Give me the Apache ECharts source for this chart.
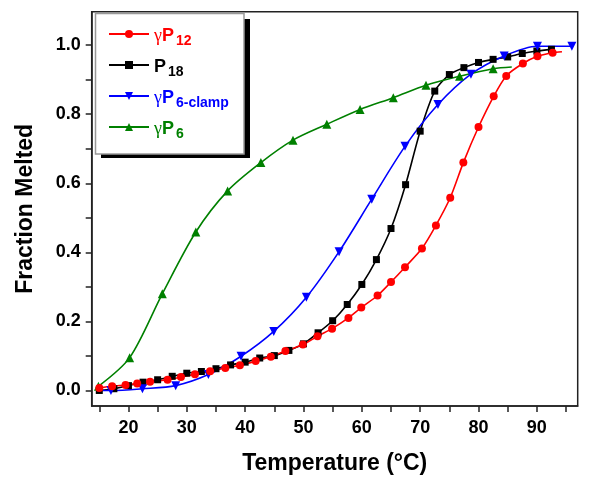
<!DOCTYPE html>
<html><head><meta charset="utf-8">
<script src="https://cdn.jsdelivr.net/npm/echarts@6/dist/echarts.min.js"></script>
<style>html,body{margin:0;padding:0;background:#fff}#c{width:600px;height:493px}</style>
</head><body><div id="c"></div>
<script>
// ---- data ----
const seriesNames = ['γP12', 'P18', 'γP6-clamp', 'γP6'];

const gP12Temp = [15.0, 17.2, 19.5, 21.5, 23.7, 26.7, 29.0, 31.4, 34.0, 36.6, 39.1, 41.8, 44.4, 46.9, 49.9, 52.4, 54.9, 57.7, 59.9, 62.7, 65.0, 67.4, 70.3, 72.7, 75.15, 77.4, 80.0, 82.6, 84.75, 87.6, 90.1, 92.7];
const gP12Frac = [0.007, 0.012, 0.016, 0.020, 0.025, 0.031, 0.039, 0.047, 0.056, 0.065, 0.073, 0.085, 0.098, 0.114, 0.133, 0.157, 0.179, 0.210, 0.240, 0.275, 0.314, 0.357, 0.411, 0.478, 0.558, 0.660, 0.763, 0.852, 0.911, 0.947, 0.968, 0.978];
const gP12Tail = [94.3, 0.981];

const p18Temp = [15, 17.5, 20, 22.5, 25, 27.5, 30, 32.5, 35, 37.5, 40, 42.5, 45, 47.5, 50, 52.5, 55, 57.5, 60, 62.5, 65, 67.5, 70, 72.5, 75, 77.5, 80, 82.5, 85, 87.5, 90, 92.5];
const p18Frac = [0.000, 0.005, 0.014, 0.024, 0.031, 0.041, 0.050, 0.055, 0.063, 0.074, 0.082, 0.094, 0.101, 0.116, 0.135, 0.167, 0.202, 0.249, 0.307, 0.379, 0.469, 0.596, 0.751, 0.867, 0.915, 0.935, 0.950, 0.959, 0.966, 0.976, 0.983, 0.988];

const gP6clampTemp = [17.0, 22.4, 28.1, 33.7, 39.3, 44.9, 50.5, 56.1, 61.7, 67.4, 73.05, 78.7, 84.4, 90.1, 96.0];
const gP6clampFrac = [0.000, 0.005, 0.014, 0.046, 0.099, 0.171, 0.270, 0.402, 0.554, 0.707, 0.828, 0.916, 0.969, 0.997, 0.997];
const gP6clampHead = [15.0, 0.0];

const gP6Temp = [14.85, 20.2, 25.8, 31.55, 37.0, 42.7, 48.2, 54.0, 59.7, 65.4, 71.0, 76.75, 82.5];
const gP6Frac = [0.012, 0.095, 0.280, 0.459, 0.578, 0.660, 0.725, 0.771, 0.814, 0.848, 0.884, 0.910, 0.932];
const gP6Tail = [85.7, 0.937];

const xTickValues = [15, 20, 25, 30, 35, 40, 45, 50, 55, 60, 65, 70, 75, 80, 85, 90, 95];
const xLabelValues = [20, 30, 40, 50, 60, 70, 80, 90];
const yTickValues = [0, 0.1, 0.2, 0.3, 0.4, 0.5, 0.6, 0.7, 0.8, 0.9, 1.0];
const yLabelValues = [0, 0.2, 0.4, 0.6, 0.8, 1.0];

// ---- build ----
function pairs(t, f, head, tail) {
  const d = t.map((x, i) => [x, f[i]]);
  if (head) d.unshift({ value: head, symbol: 'none' });
  if (tail) d.push({ value: tail, symbol: 'none' });
  return d;
}
const colors = { 'γP12': '#ff0000', 'P18': '#000000', 'γP6-clamp': '#0000ff', 'γP6': '#008000' };
const parts = { 'γP12': ['γ', 'P', '12'], 'P18': ['', 'P', '18'], 'γP6-clamp': ['γ', 'P', '6-clamp'], 'γP6': ['γ', 'P', '6'] };
const keyOf = { 'γP12': 'r', 'P18': 'k', 'γP6-clamp': 'b', 'γP6': 'g' };
const rich = {};
Object.keys(colors).forEach(n => {
  const k = keyOf[n], c = colors[n];
  rich['g' + k] = { color: c, fontFamily: 'Liberation Serif', fontSize: 18, lineHeight: 24, verticalAlign: 'middle' };
  rich['p' + k] = { color: c, fontFamily: 'Liberation Sans', fontWeight: 'bold', fontSize: 18, lineHeight: 24, verticalAlign: 'middle', padding: [0, 2, 0, 0] };
  rich['s' + k] = { color: c, fontFamily: 'Liberation Sans', fontWeight: 'bold', fontSize: 14, lineHeight: 12, verticalAlign: 'bottom' };
});

const chart = echarts.init(document.getElementById('c'), null, { renderer: 'canvas' });
const axisCol = '#222';
const option = {
  backgroundColor: '#fff',
  animation: false,
  grid: { left: 91.7, right: 22.3, top: 11.7, bottom: 87, show: true, borderColor: axisCol, borderWidth: 1.5, backgroundColor: 'transparent' },
  graphic: [
    { type: 'rect', silent: true, z: 3, shape: { x: 101, y: 19, width: 149, height: 139 }, style: { fill: '#000' } },
    { type: 'rect', silent: true, z: 3, shape: { x: 95.5, y: 13.5, width: 148.5, height: 140.5 }, style: { fill: '#fff', stroke: '#999', lineWidth: 1.5 } }
  ],
  legend: {
    orient: 'vertical', left: 95, top: 13, z: 5,
    padding: [14, 13, 10, 13], itemGap: 10, itemWidth: 40, itemHeight: 10,
    backgroundColor: 'transparent',
    data: seriesNames,
    formatter: n => { const [g, p, s] = parts[n]; const k = keyOf[n]; return (g ? `{g${k}|${g}}` : '') + `{p${k}|${p}}{s${k}|${s}}`; },
    textStyle: { rich: rich, padding: [4, 0, 0, 0] }
  },
  xAxis: {
    type: 'value', min: 13.7, max: 97,
    name: 'Temperature (°C)', nameLocation: 'middle', nameGap: 46,
    nameTextStyle: { fontFamily: 'Liberation Sans', fontWeight: 'bold', fontSize: 23, color: '#000' },
    axisLine: { onZero: false, lineStyle: { color: axisCol, width: 1.5 } },
    axisTick: { show: true, inside: false, length: 6, customValues: xTickValues, lineStyle: { color: axisCol, width: 1.5 } },
    axisLabel: { customValues: xLabelValues, margin: 13, fontFamily: 'Liberation Sans', fontWeight: 'bold', fontSize: 18, color: '#000' },
    splitLine: { show: false }
  },
  yAxis: {
    type: 'value', min: -0.045, max: 1.097,
    name: 'Fraction Melted', nameLocation: 'middle', nameGap: 55, nameRotate: 90,
    nameTextStyle: { fontFamily: 'Liberation Sans', fontWeight: 'bold', fontSize: 23, color: '#000' },
    axisLine: { onZero: false, lineStyle: { color: axisCol, width: 1.5 } },
    axisTick: { show: true, inside: false, length: 6, customValues: yTickValues, lineStyle: { color: axisCol, width: 1.5 } },
    axisLabel: { customValues: yLabelValues, margin: 11, formatter: v => v.toFixed(1), fontFamily: 'Liberation Sans', fontWeight: 'bold', fontSize: 18, color: '#000' },
    splitLine: { show: false }
  },
  series: [
    { name: 'P18', type: 'line', data: pairs(p18Temp, p18Frac), smooth: 0.25,
      symbol: 'rect', symbolSize: 7, itemStyle: { color: colors['P18'] }, lineStyle: { color: colors['P18'], width: 1.6 } },
    { name: 'γP6-clamp', type: 'line', data: pairs(gP6clampTemp, gP6clampFrac, gP6clampHead), smooth: 0.3,
      symbol: 'triangle', symbolRotate: 180, symbolSize: 9, itemStyle: { color: colors['γP6-clamp'] }, lineStyle: { color: colors['γP6-clamp'], width: 1.6 } },
    { name: 'γP6', type: 'line', data: pairs(gP6Temp, gP6Frac, null, gP6Tail), smooth: 0.3,
      symbol: 'triangle', symbolSize: 9, itemStyle: { color: colors['γP6'] }, lineStyle: { color: colors['γP6'], width: 1.6 } },
    { name: 'γP12', type: 'line', data: pairs(gP12Temp, gP12Frac, null, gP12Tail), smooth: 0.25,
      symbol: 'circle', symbolSize: 8, itemStyle: { color: colors['γP12'] }, lineStyle: { color: colors['γP12'], width: 1.6 } }
  ]
};
chart.setOption(option);
</script></body></html>
